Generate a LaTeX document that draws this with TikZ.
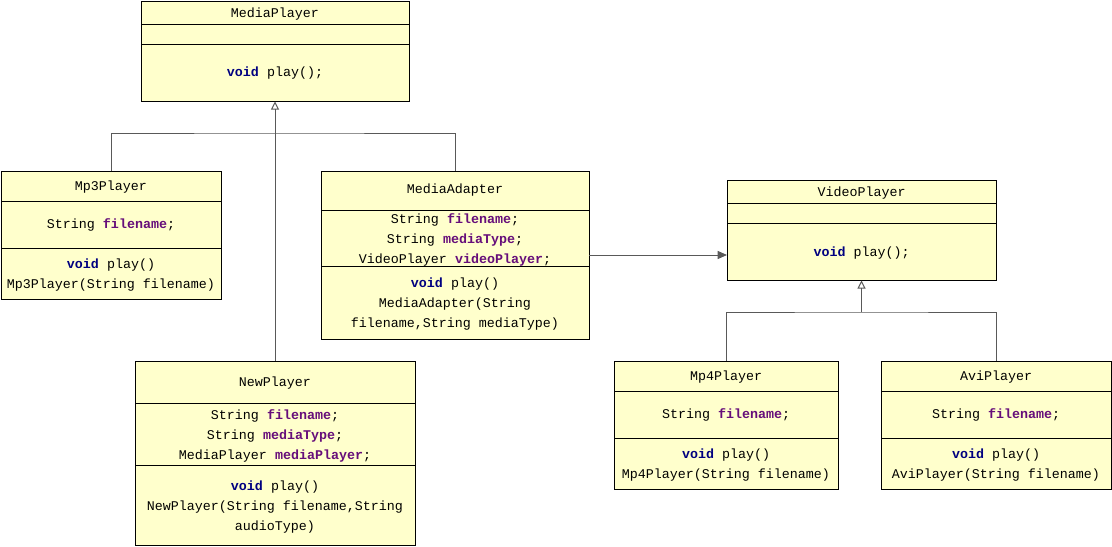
\documentclass[tikz,border=0pt]{standalone}
\usepackage{fontspec}
\setmonofont{Liberation Mono}
\usetikzlibrary{arrows.meta,fit}
\definecolor{boxfill}{HTML}{FFFFCC}
\definecolor{kw}{HTML}{000080}
\definecolor{fld}{HTML}{660E7A}
\definecolor{lnk}{HTML}{595959}
\newcommand{\kwd}[1]{\textcolor{kw}{\textbf{#1}}}
\newcommand{\fd}[1]{\textcolor{fld}{\textbf{#1}}}
\tikzset{
  cls/.style={draw=black, fill=boxfill, line width=0.75pt, inner sep=0pt},
  sep/.style={draw=black, line width=0.75pt},
  txt/.style={font=\ttfamily\fontsize{10}{15}\selectfont, align=center, inner sep=0pt, yshift=-0.75pt},
  conn/.style={draw=lnk, line width=0.75pt},
  gen/.style={conn, -{Triangle[open, width=6pt, length=6pt]}},
  assoc/.style={conn, -{Triangle[width=6pt, length=7pt]}, shorten >=0pt}
}
\begin{document}
\begin{tikzpicture}[x=0.75pt,y=-0.75pt]
\useasboundingbox (0,0) rectangle (1112,546);

% MediaPlayer
\node[cls, fit={(141,1) (409,101)}] (mediaplayer) {};
\draw[sep] (141,24) -- (409,24);
\draw[sep] (141,44) -- (409,44);
\node[txt] (mpname) at (275,13) {MediaPlayer};
\node[txt] (mpmeth) at (275,72) {\kwd{void} play();};

% Mp3Player
\node[cls, fit={(1,171) (221,299)}] (mp3) {};
\draw[sep] (1,201) -- (221,201);
\draw[sep] (1,248) -- (221,248);
\node[txt] (mp3name) at (111,186) {Mp3Player};
\node[txt] (mp3fld) at (111,224) {String \fd{filename};};
\node[txt] (mp3meth) at (111,274) {\kwd{void} play()\\Mp3Player(String filename)};

% MediaAdapter
\node[cls, fit={(321,171) (589,339)}] (adapter) {};
\draw[sep] (321,210) -- (589,210);
\draw[sep] (321,266) -- (589,266);
\node[txt] (adname) at (455,189) {MediaAdapter};
\node[txt] (adfld) at (455,239) {String \fd{filename};\\String \fd{mediaType};\\VideoPlayer \fd{videoPlayer};};
\node[txt] (admeth) at (455,303) {\kwd{void} play()\\MediaAdapter(String\\filename,String mediaType)};

% VideoPlayer
\node[cls, fit={(727,180) (996,280)}] (video) {};
\draw[sep] (727,203) -- (996,203);
\draw[sep] (727,223) -- (996,223);
\node[txt] (vpname) at (861.5,192) {VideoPlayer};
\node[txt] (vpmeth) at (861.5,252) {\kwd{void} play();};

% NewPlayer
\node[cls, fit={(135,361) (415,545)}] (newp) {};
\draw[sep] (135,403) -- (415,403);
\draw[sep] (135,465) -- (415,465);
\node[txt] (npname) at (275,382) {NewPlayer};
\node[txt] (npfld) at (275,435) {String \fd{filename};\\String \fd{mediaType};\\MediaPlayer \fd{mediaPlayer};};
\node[txt] (npmeth) at (275,506) {\kwd{void} play()\\NewPlayer(String filename,String\\audioType)};

% Mp4Player
\node[cls, fit={(614,361) (838,489)}] (mp4) {};
\draw[sep] (614,391) -- (838,391);
\draw[sep] (614,438) -- (838,438);
\node[txt] (mp4name) at (726,376) {Mp4Player};
\node[txt] (mp4fld) at (726,414) {String \fd{filename};};
\node[txt] (mp4meth) at (726,464) {\kwd{void} play()\\Mp4Player(String filename)};

% AviPlayer
\node[cls, fit={(881,361) (1111,489)}] (avi) {};
\draw[sep] (881,391) -- (1111,391);
\draw[sep] (881,438) -- (1111,438);
\node[txt] (aviname) at (996,376) {AviPlayer};
\node[txt] (avifld) at (996,414) {String \fd{filename};};
\node[txt] (avimeth) at (996,464) {\kwd{void} play()\\AviPlayer(String filename)};

% connectors
\coordinate (j1) at (275,133);
\coordinate (j2) at (861.5,312);
\coordinate (a1) at (589,255);
\coordinate (a2) at (727,255);
\draw[conn] (mp3.north) |- (j1) -| (adapter.north);
\draw[gen] (newp.north) -- (mediaplayer.south);
\draw[conn] (mp4.north) |- (j2) -| (avi.north);
\draw[gen] (j2) -- (video.south);
\draw[assoc] (a1) -- (a2);
\end{tikzpicture}
\end{document}
